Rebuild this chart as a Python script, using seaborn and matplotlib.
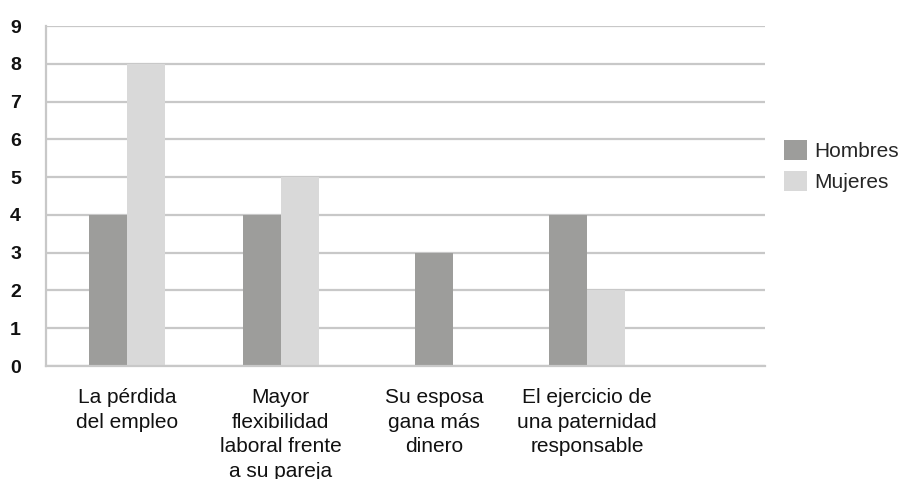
import numpy as np
import pandas as pd
import matplotlib
matplotlib.use("Agg")
import matplotlib.pyplot as plt
import seaborn as sns

categories = [
    "La pérdida\ndel empleo",
    "Mayor\nflexibilidad\nlaboral frente\na su pareja",
    "Su esposa\ngana más\ndinero",
    "El ejercicio de\nuna paternidad\nresponsable",
]
hombres = [4, 4, 3, 4]
mujeres = [8, 5, None, 2]   # no answer from women for the third reason
series_names = ["Hombres", "Mujeres"]
y_ticks = list(range(10))

df = pd.DataFrame({
    "motivo": categories * 2,
    "grupo": [series_names[0]] * len(categories) + [series_names[1]] * len(categories),
    "valor": hombres + mujeres,
}).dropna()

# categories answered by both groups get paired bars; the rest a single centred bar
counts = df.groupby("motivo")["grupo"].transform("count")
df_pair = df[counts == 2]
df_single = df[counts == 1]

sns.set_theme(style="white")
plt.rcParams["font.family"] = ["Liberation Sans", "DejaVu Sans"]

fig = plt.figure(figsize=(9.05, 4.79), dpi=100)
ax = fig.add_axes([0.0508, 0.2359, 0.7940, 0.7098])

palette = {"Hombres": "#9d9d9b", "Mujeres": "#d9d9d9"}
sns.barplot(data=df_pair, x="motivo", y="valor", hue="grupo", order=categories,
            hue_order=series_names, palette=palette, width=0.495, linewidth=0,
            saturation=1, ax=ax, legend=True)
sns.barplot(data=df_single, x="motivo", y="valor", hue="grupo", order=categories,
            hue_order=series_names, palette=palette, width=0.2475, dodge=False,
            linewidth=0, saturation=1, ax=ax, legend=False)

ax.set_xlim(-0.531, 4.157)
ax.set_ylim(0, 9)
ax.set_axisbelow(True)
ax.yaxis.grid(True, color="#c8c8c8", linewidth=1.6)
ax.xaxis.grid(False)

for side in ["top", "right"]:
    ax.spines[side].set_visible(False)
for side in ["left", "bottom"]:
    ax.spines[side].set_color("#c8c8c8")
    ax.spines[side].set_linewidth(1.6)

ax.set_yticks(y_ticks)
ax.set_yticklabels([str(v) for v in y_ticks], fontsize=14, fontweight="bold",
                   color="#111111")
ax.tick_params(axis="y", length=0, pad=18)

ax.set_xticks(range(len(categories)))
ax.set_xticklabels(categories, fontsize=15, color="#111111", linespacing=1.37,
                   ha="center", va="top")
ax.tick_params(axis="x", length=0, pad=16)
ax.set_xlabel("")
ax.set_ylabel("")

handles, labels = ax.get_legend_handles_labels()
ax.legend(handles, labels, loc="upper left", bbox_to_anchor=(0.866, 0.708),
          bbox_transform=fig.transFigure, frameon=False, fontsize=15,
          handlelength=1.1, handleheight=1.1, handletextpad=0.38,
          labelspacing=0.5, borderpad=0, borderaxespad=0)

fig.savefig("out.png", dpi=100)
